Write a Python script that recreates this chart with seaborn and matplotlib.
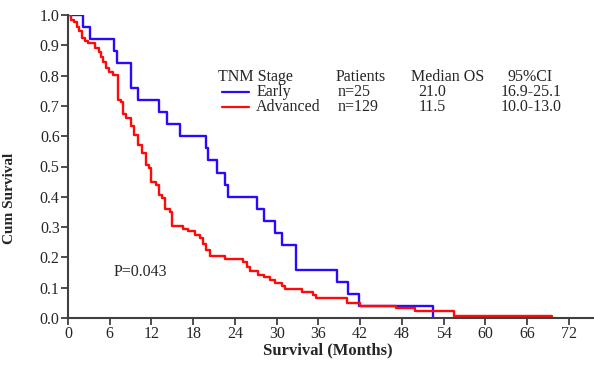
import pandas as pd
import seaborn as sns
import matplotlib.pyplot as plt

# Kaplan-Meier steps (months, cumulative survival)
early_time = [0, 2.1, 3.2, 6.6, 7.0, 9.1, 10.0, 13.1, 14.2, 16.1, 19.8, 20.1,
              21.4, 22.6, 23.0, 27.2, 28.2, 29.7, 30.7, 32.7, 38.6, 40.2, 41.8, 52.4]
early_surv = [1.0, 0.96, 0.92, 0.88, 0.84, 0.76, 0.72, 0.68, 0.64, 0.60, 0.56, 0.52,
              0.48, 0.44, 0.40, 0.36, 0.32, 0.28, 0.24, 0.16, 0.12, 0.08, 0.04, 0.0]

adv_time = [0, 0.4, 0.85, 1.3, 1.6, 2.0, 2.4, 2.9, 3.9, 4.4, 4.7, 5.0, 5.5, 5.9,
            6.4, 7.2, 7.6, 7.95, 8.4, 9.0, 9.5, 10.1, 10.6, 11.2, 11.7, 12.0,
            12.6, 13.1, 13.5, 14.0, 14.6, 15.0, 16.6, 17.2, 18.2, 19.0, 19.4,
            19.8, 20.4, 22.6, 25.2, 25.7, 26.1, 27.3, 28.1, 29.0, 29.7, 30.7,
            31.2, 33.6, 35.2, 35.7, 40.1, 42.0, 47.2, 49.9, 55.5, 69.5]
adv_surv = [1.0, 0.983, 0.976, 0.961, 0.947, 0.923, 0.914, 0.907, 0.892, 0.879,
            0.862, 0.844, 0.826, 0.813, 0.802, 0.72, 0.714, 0.674, 0.659, 0.635,
            0.604, 0.571, 0.544, 0.505, 0.494, 0.45, 0.439, 0.406, 0.396, 0.36,
            0.35, 0.302, 0.295, 0.287, 0.274, 0.263, 0.245, 0.225, 0.205, 0.194,
            0.186, 0.167, 0.156, 0.142, 0.134, 0.125, 0.115, 0.106, 0.095, 0.087,
            0.076, 0.065, 0.048, 0.04, 0.032, 0.023, 0.008, 0.008]

stages = ["Early", "Advanced"]
patients = ["n=25", "n=129"]
median_os = ["21.0", "11.5"]
ci95 = ["16.9-25.1", "10.0-13.0"]
colors = {"Early": "#2a0aff", "Advanced": "#ff0a0a"}

x_ticks = list(range(0, 73, 6))
y_ticks = [i / 10 for i in range(11)]

df = pd.concat([
    pd.DataFrame({"time": early_time, "surv": early_surv, "stage": "Early"}),
    pd.DataFrame({"time": adv_time, "surv": adv_surv, "stage": "Advanced"}),
])

sns.set_theme(style="white")
plt.rcParams["font.family"] = ["Liberation Serif", "DejaVu Serif"]

fig = plt.figure(figsize=(5.94, 3.69), dpi=100)
ax = fig.add_axes([68 / 594, 51 / 369, 526 / 594, 303 / 369])

sns.lineplot(data=df, x="time", y="surv", hue="stage", palette=colors,
             estimator=None, sort=False, drawstyle="steps-post",
             linewidth=1.7, legend=False, ax=ax)

ax.set_xlim(0, 75.6)
ax.set_ylim(0, 1.0)
ax.set_xticks(x_ticks)
ax.set_yticks(y_ticks)
ax.set_yticklabels([f"{v:.1f}" for v in y_ticks])
ax.tick_params(axis="both", direction="out", length=5, width=1.3,
               color="#404040", labelsize=11.5, pad=1, bottom=True, left=True)
for side in ["top", "right"]:
    ax.spines[side].set_visible(False)
for side in ["left", "bottom"]:
    ax.spines[side].set_color("#404040")
    ax.spines[side].set_linewidth(1.5)
ax.spines["left"].set_zorder(5)

ax.set_xlabel("Survival (Months)", fontsize=12, fontweight="bold")
ax.set_ylabel("Cum Survival", fontsize=11, fontweight="bold")
ax.xaxis.set_label_coords(0.494, -0.08)
ax.yaxis.set_label_coords(-0.098, 0.396)

# table-style legend
fs = 11.5
ax.text(0.285, 0.795, "TNM Stage", transform=ax.transAxes, fontsize=fs, va="center")
ax.text(0.557, 0.795, "Patients", transform=ax.transAxes, fontsize=fs, va="center", ha="center")
ax.text(0.721, 0.795, "Median OS", transform=ax.transAxes, fontsize=fs, va="center", ha="center")
ax.text(0.878, 0.795, "95%CI", transform=ax.transAxes, fontsize=fs, va="center", ha="center")
for i, st in enumerate(stages):
    yy = 0.746 - i * 0.05
    ax.plot([0.293, 0.344], [yy, yy], color=colors[st], lw=1.6, transform=ax.transAxes)
    ax.text(0.358, yy, st, transform=ax.transAxes, fontsize=fs, va="center")
    ax.text(0.513, yy, patients[i], transform=ax.transAxes, fontsize=fs, va="center")
    ax.text(0.692, yy, median_os[i], transform=ax.transAxes, fontsize=fs, va="center", ha="center")
    ax.text(0.880, yy, ci95[i], transform=ax.transAxes, fontsize=fs, va="center", ha="center")

ax.text(6.5, 0.152, "P=0.043", fontsize=11.5, va="center")

fig.savefig("out.png", dpi=100)
